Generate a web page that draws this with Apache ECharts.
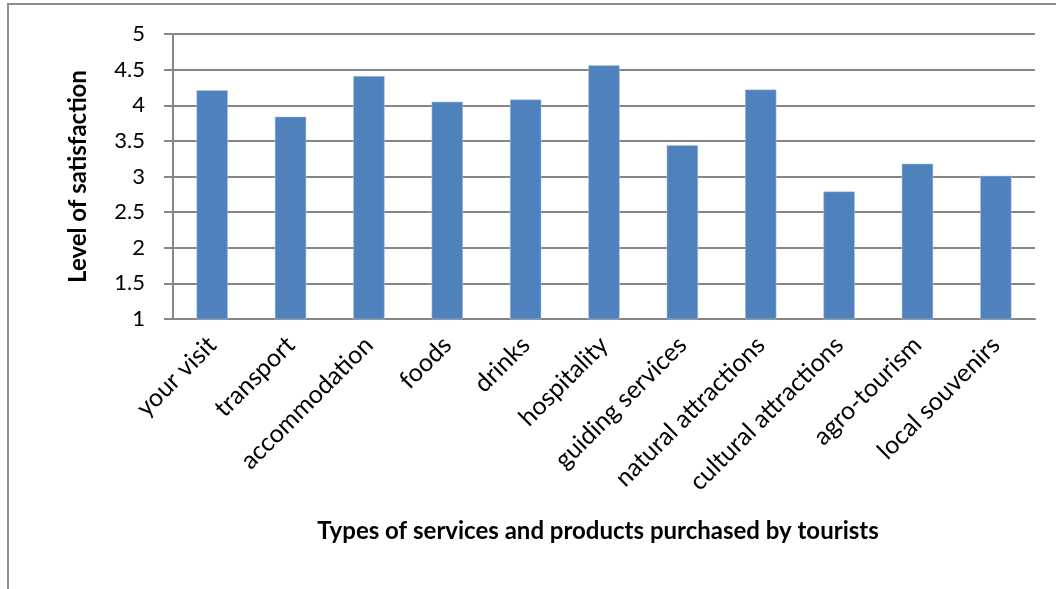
<!DOCTYPE html>
<html>
<head>
<meta charset="utf-8">
<script src="https://cdn.jsdelivr.net/npm/echarts@6/dist/echarts.min.js"></script>
<style>
  html, body { margin: 0; padding: 0; background: #fff; }
  #chart { width: 1056px; height: 589px; }
</style>
</head>
<body>
<div id="chart"></div>
<script>
// Services and products purchased by tourists, rated for satisfaction
const categories = [
  'your visit', 'transport', 'accommodation', 'foods', 'drinks', 'hospitality',
  'guiding services', 'natural attractions', 'cultural attractions', 'agro-tourism', 'local souvenirs'
];
const satisfaction = [4.21, 3.84, 4.41, 4.05, 4.08, 4.56, 3.44, 4.22, 2.79, 3.18, 3.01];
const yTicks = [1, 1.5, 2, 2.5, 3, 3.5, 4, 4.5, 5];

const FONT = 'Lato, "Open Sans", sans-serif';

const chart = echarts.init(document.getElementById('chart'), null, { renderer: 'canvas' });
chart.setOption({
  animation: false,
  backgroundColor: '#fff',
  graphic: [{
    type: 'rect',
    shape: { x: 8, y: 4, width: 1200, height: 800 },
    style: { fill: 'none', stroke: '#8e8e8e', lineWidth: 2 },
    silent: true
  }],
  grid: { left: 173, right: 21, top: 34, bottom: 270, containLabel: false },
  xAxis: {
    type: 'category',
    data: categories,
    name: 'Types of services and products purchased by tourists',
    nameLocation: 'middle',
    nameGap: 200,
    nameTextStyle: { fontFamily: FONT, fontWeight: 'bold', fontSize: 24, color: '#000', padding: [0, 12, 0, 0] },
    axisLine: { show: true, lineStyle: { color: '#868686', width: 2 } },
    axisTick: { show: false },
    axisLabel: {
      rotate: 45, interval: 0, margin: 22,
      fontFamily: FONT, fontSize: 25, color: '#000'
    },
    splitLine: { show: false }
  },
  yAxis: {
    type: 'value',
    min: yTicks[0],
    max: yTicks[yTicks.length - 1],
    interval: 0.5,
    name: 'Level of satisfaction',
    nameLocation: 'middle',
    nameGap: 83,
    nameTextStyle: { fontFamily: FONT, fontWeight: 'bold', fontSize: 24, color: '#000' },
    axisLine: { show: true, lineStyle: { color: '#868686', width: 2 } },
    axisTick: { show: true, length: 9, lineStyle: { color: '#868686', width: 2 } },
    axisLabel: { fontFamily: FONT, fontSize: 22, color: '#000', margin: 28 },
    splitLine: { show: true, lineStyle: { color: '#868686', width: 2 } }
  },
  series: [{
    type: 'bar',
    data: satisfaction,
    barWidth: '40%',
    itemStyle: { color: '#4f81bd', borderColor: '#b9cde5', borderWidth: 0.5 }
  }]
});
</script>
</body>
</html>
